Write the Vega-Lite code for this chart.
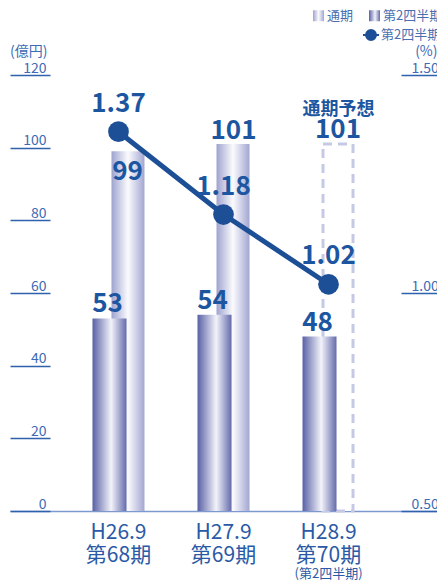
{
  "$schema": "https://vega.github.io/schema/vega-lite/v6.json",
  "width": 427,
  "height": 436,
  "autosize": "none",
  "padding": {"left": 10, "top": 75, "right": 0, "bottom": 71},
  "config": {"font": "Noto Sans CJK JP", "view": {"stroke": null}},
  "data": {
    "values": [
      {"period": "H26.9|第68期", "full": 99, "q2": 53, "ratio": 1.37, "forecast": null, "note": null, "sub": null},
      {"period": "H27.9|第69期", "full": 101, "q2": 54, "ratio": 1.18, "forecast": null, "note": null, "sub": null},
      {"period": "H28.9|第70期", "full": null, "q2": 48, "ratio": 1.02, "forecast": 101, "note": "通期予想", "sub": "(第2四半期)"}
    ]
  },
  "encoding": {
    "x": {
      "field": "period", "type": "nominal", "sort": null,
      "scale": {"type": "band", "paddingInner": 0, "paddingOuter": 0.533},
      "axis": {
        "title": null, "labelAngle": 0, "labelExpr": "split(datum.label, '|')",
        "ticks": false, "domain": true, "domainColor": "#7d9ad0", "domainWidth": 1.5,
        "labelFontSize": 21, "labelLineHeight": 23, "labelColor": "#2a5aa6", "labelPadding": 10
      }
    }
  },
  "layer": [
    {
      "transform": [{"filter": "datum.full != null"}],
      "mark": {"type": "bar", "width": 33, "xOffset": 9.5},
      "encoding": {
        "y": {
          "field": "full", "type": "quantitative",
          "scale": {"domain": [0, 120], "nice": false, "zero": true},
          "axis": {
            "orient": "left", "values": [0, 20, 40, 60, 80, 100, 120],
            "grid": false, "domain": false, "tickSize": -40, "tickWidth": 1.5, "tickColor": "#2e62ad",
            "labelAlign": "right", "labelPadding": 4, "labelBaseline": "alphabetic", "labelOffset": -3,
            "labelFlush": false, "labelFontSize": 14, "labelColor": "#3d6bb5",
            "title": "(億円)", "titleAngle": 0, "titleX": 37, "titleY": -17, "titleAlign": "right",
            "titleBaseline": "bottom", "titleFontSize": 14, "titleFontWeight": "normal", "titleColor": "#3d6bb5"
          }
        },
        "fill": {
          "datum": "通期", "type": "nominal",
          "scale": {
            "domain": ["通期", "第2四半期"],
            "range": [
              {"expr": "{gradient: 'linear', x1: 0, y1: 0, x2: 1, y2: 0, stops: [{offset: 0, color: '#9ea3cf'}, {offset: 0.5, color: '#fbfbfe'}, {offset: 1, color: '#a2a6d1'}]}"},
              {"expr": "{gradient: 'linear', x1: 0, y1: 0, x2: 1, y2: 0, stops: [{offset: 0, color: '#5860a5'}, {offset: 0.55, color: '#f3f3fa'}, {offset: 1, color: '#646bab'}]}"}
            ]
          },
          "legend": {
            "orient": "none", "legendX": 302, "legendY": -66, "direction": "horizontal", "title": null,
            "symbolType": "square", "symbolSize": 121, "symbolStrokeWidth": 0,
            "labelFontSize": 13, "labelColor": "#4a6fb0", "labelOffset": 2, "columnPadding": 14
          }
        }
      }
    },
    {
      "transform": [{"filter": "datum.forecast != null"}],
      "mark": {"type": "bar", "width": 30, "xOffset": 9.5, "fill": "white", "stroke": "#c6c9e4", "strokeWidth": 3, "strokeDash": [9, 6]},
      "encoding": {"y": {"field": "forecast", "type": "quantitative", "scale": {"domain": [0, 120], "nice": false}, "axis": null}}
    },
    {
      "mark": {"type": "bar", "width": 34, "xOffset": -9},
      "encoding": {
        "y": {"field": "q2", "type": "quantitative", "scale": {"domain": [0, 120], "nice": false}, "axis": null},
        "fill": {"datum": "第2四半期", "type": "nominal"}
      }
    },
    {
      "mark": {"type": "text", "dy": -6, "xOffset": -11, "baseline": "alphabetic", "fontSize": 26, "fontWeight": "bold", "color": "#1d56a0"},
      "encoding": {"y": {"field": "q2", "type": "quantitative", "scale": {"domain": [0, 120], "nice": false}, "axis": null}, "text": {"field": "q2", "type": "quantitative"}}
    },
    {
      "transform": [{"filter": "datum.period == 'H26.9|第68期'"}],
      "mark": {"type": "text", "dy": 29, "xOffset": 9, "baseline": "alphabetic", "fontSize": 26, "fontWeight": "bold", "color": "#1d56a0"},
      "encoding": {"y": {"field": "full", "type": "quantitative", "scale": {"domain": [0, 120], "nice": false}, "axis": null}, "text": {"field": "full", "type": "quantitative"}}
    },
    {
      "transform": [{"filter": "datum.period == 'H27.9|第69期'"}],
      "mark": {"type": "text", "dy": -5, "xOffset": 10, "baseline": "alphabetic", "fontSize": 26, "fontWeight": "bold", "color": "#1d56a0"},
      "encoding": {"y": {"field": "full", "type": "quantitative", "scale": {"domain": [0, 120], "nice": false}, "axis": null}, "text": {"field": "full", "type": "quantitative"}}
    },
    {
      "transform": [{"filter": "datum.forecast != null"}],
      "mark": {"type": "text", "dy": -6, "xOffset": 9.5, "baseline": "alphabetic", "fontSize": 26, "fontWeight": "bold", "color": "#1d56a0"},
      "encoding": {"y": {"field": "forecast", "type": "quantitative", "scale": {"domain": [0, 120], "nice": false}, "axis": null}, "text": {"field": "forecast", "type": "quantitative"}}
    },
    {
      "transform": [{"filter": "datum.note != null"}],
      "mark": {"type": "text", "dy": -29, "xOffset": 10, "baseline": "alphabetic", "fontSize": 18, "fontWeight": "bold", "color": "#1d56a0"},
      "encoding": {"y": {"field": "forecast", "type": "quantitative", "scale": {"domain": [0, 120], "nice": false}, "axis": null}, "text": {"field": "note", "type": "nominal"}}
    },
    {
      "transform": [{"filter": "datum.sub != null"}],
      "mark": {"type": "text", "dy": 67, "baseline": "alphabetic", "fontSize": 13, "color": "#2a5aa6"},
      "encoding": {"y": {"datum": 0, "type": "quantitative", "scale": {"domain": [0, 120], "nice": false}, "axis": null}, "text": {"field": "sub", "type": "nominal"}}
    },
    {
      "mark": {"type": "line", "strokeWidth": 5},
      "encoding": {
        "y": {
          "field": "ratio", "type": "quantitative",
          "scale": {"domain": [0.5, 1.5], "nice": false, "zero": false},
          "axis": {
            "orient": "right", "values": [0.5, 1.0, 1.5], "format": ".2f",
            "grid": false, "domain": false, "tickSize": -36, "tickWidth": 1.5, "tickColor": "#2e62ad",
            "labelAlign": "left", "labelPadding": 10, "labelBaseline": "alphabetic", "labelOffset": -3,
            "labelFlush": false, "labelFontSize": 14, "labelColor": "#3d6bb5",
            "title": "(%)", "titleAngle": 0, "titleX": 0, "titleY": -17, "titleAlign": "right",
            "titleBaseline": "bottom", "titleFontSize": 14, "titleFontWeight": "normal", "titleColor": "#3d6bb5"
          }
        },
        "stroke": {
          "datum": "第2四半期", "type": "nominal",
          "scale": {"range": ["#1d4f97"]},
          "legend": {
            "orient": "none", "legendX": 352, "legendY": -49, "title": null,
            "symbolType": "M-1,0L1,0M-0.62,0A0.62,0.62,0,1,0,0.62,0A0.62,0.62,0,1,0,-0.62,0Z",
            "symbolSize": 256, "symbolStrokeWidth": 2, "symbolFillColor": "#1d4f97", "symbolStrokeColor": "#1d4f97",
            "labelFontSize": 13, "labelColor": "#4a6fb0", "labelOffset": 1,
            "encode": {"symbols": {"update": {"fill": {"value": "#1d4f97"}, "stroke": {"value": "#1d4f97"}}}}
          }
        }
      }
    },
    {
      "mark": {"type": "circle", "size": 430, "color": "#1d4f97", "opacity": 1},
      "encoding": {"y": {"field": "ratio", "type": "quantitative", "scale": {"domain": [0.5, 1.5], "nice": false, "zero": false}, "axis": null}}
    },
    {
      "mark": {"type": "text", "dy": -20, "baseline": "alphabetic", "fontSize": 26, "fontWeight": "bold", "color": "#1d56a0"},
      "encoding": {
        "y": {"field": "ratio", "type": "quantitative", "scale": {"domain": [0.5, 1.5], "nice": false, "zero": false}, "axis": null},
        "text": {"field": "ratio", "type": "quantitative", "format": ".2f"}
      }
    }
  ],
  "resolve": {"scale": {"y": "independent"}}
}
